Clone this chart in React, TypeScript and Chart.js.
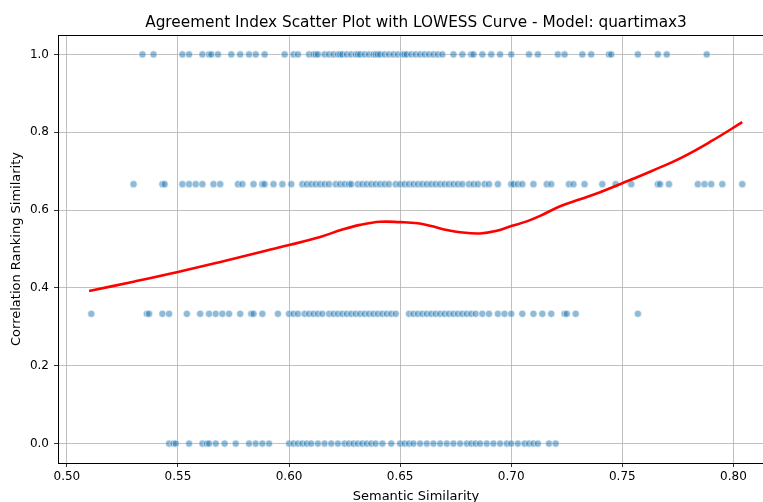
import React, { useEffect, useRef } from "react";
import { Chart, registerables } from "chart.js";

Chart.register(...registerables);

const TITLE = "Agreement Index Scatter Plot with LOWESS Curve - Model: quartimax3";
const X_LABEL = "Semantic Similarity";
const Y_LABEL = "Correlation Ranking Similarity";

// Semantic similarity values for each agreement level
const row100: number[] = [
  0.534, 0.539, 0.552, 0.555, 0.561, 0.564, 0.565, 0.568, 0.574, 0.578, 0.582, 0.585, 0.589,
  0.598, 0.602, 0.604, 0.609, 0.611, 0.612, 0.613, 0.616, 0.618, 0.620, 0.622, 0.623, 0.624,
  0.626, 0.628, 0.630, 0.631, 0.632, 0.634, 0.636, 0.638, 0.639, 0.640, 0.641, 0.643, 0.645,
  0.647, 0.649, 0.651, 0.652, 0.653, 0.655, 0.657, 0.659, 0.661, 0.663, 0.665, 0.667, 0.669,
  0.674, 0.678, 0.682, 0.683, 0.687, 0.691, 0.695, 0.700, 0.708, 0.712, 0.721, 0.724, 0.732,
  0.736, 0.744, 0.745, 0.757, 0.766, 0.770, 0.788,
];
const row067: number[] = [
  0.530, 0.543, 0.544, 0.552, 0.555, 0.558, 0.561, 0.566, 0.569, 0.577, 0.579, 0.584, 0.588,
  0.589, 0.593, 0.597, 0.601, 0.606, 0.608, 0.610, 0.612, 0.614, 0.616, 0.618, 0.621, 0.623,
  0.625, 0.627, 0.628, 0.631, 0.633, 0.635, 0.637, 0.639, 0.641, 0.643, 0.645, 0.648, 0.650,
  0.652, 0.654, 0.656, 0.658, 0.660, 0.662, 0.664, 0.666, 0.668, 0.670, 0.672, 0.674, 0.676,
  0.678, 0.681, 0.683, 0.685, 0.688, 0.690, 0.694, 0.700, 0.701, 0.703, 0.705, 0.710, 0.716,
  0.718, 0.726, 0.728, 0.733, 0.741, 0.747, 0.754, 0.766, 0.767, 0.771, 0.784, 0.787, 0.790,
  0.795, 0.804,
];
const row033: number[] = [
  0.511, 0.536, 0.537, 0.543, 0.546, 0.554, 0.560, 0.564, 0.567, 0.570, 0.573, 0.578, 0.583,
  0.584, 0.588, 0.595, 0.600, 0.602, 0.604, 0.607, 0.609, 0.611, 0.613, 0.615, 0.618, 0.620,
  0.622, 0.624, 0.626, 0.628, 0.630, 0.632, 0.634, 0.636, 0.638, 0.640, 0.642, 0.644, 0.646,
  0.648, 0.654, 0.656, 0.658, 0.660, 0.662, 0.664, 0.666, 0.668, 0.670, 0.672, 0.674, 0.676,
  0.678, 0.680, 0.682, 0.684, 0.687, 0.690, 0.694, 0.697, 0.700, 0.705, 0.710, 0.714, 0.718,
  0.724, 0.725, 0.729, 0.757,
];
const row000: number[] = [
  0.546, 0.548, 0.549, 0.555, 0.561, 0.563, 0.564, 0.567, 0.571, 0.576, 0.582, 0.585, 0.588,
  0.591, 0.600, 0.602, 0.604, 0.606, 0.608, 0.610, 0.613, 0.616, 0.619, 0.622, 0.625, 0.627,
  0.629, 0.631, 0.633, 0.635, 0.637, 0.639, 0.642, 0.646, 0.650, 0.652, 0.654, 0.656, 0.659,
  0.662, 0.665, 0.668, 0.671, 0.674, 0.677, 0.680, 0.682, 0.684, 0.686, 0.689, 0.692, 0.695,
  0.698, 0.700, 0.703, 0.706, 0.708, 0.710, 0.712, 0.717, 0.720,
];
const rowLevels: number[] = [1.0, 2 / 3, 1 / 3, 0.0];

// LOWESS curve
const lowessX: number[] = [
  0.510, 0.530, 0.550, 0.570, 0.590, 0.600, 0.614, 0.624, 0.632, 0.641, 0.650, 0.658, 0.664,
  0.671, 0.677, 0.686, 0.693, 0.700, 0.707, 0.713, 0.722, 0.731, 0.740, 0.750, 0.763, 0.776,
  0.790, 0.804,
];
const lowessY: number[] = [
  0.392, 0.416, 0.441, 0.468, 0.496, 0.510, 0.531, 0.550, 0.562, 0.570, 0.569, 0.566, 0.559,
  0.549, 0.543, 0.540, 0.546, 0.559, 0.571, 0.585, 0.610, 0.628, 0.646, 0.669, 0.700, 0.733,
  0.777, 0.826,
];

const X_TICKS: number[] = [0.5, 0.55, 0.6, 0.65, 0.7, 0.75, 0.8];
const Y_TICKS: number[] = [0.0, 0.2, 0.4, 0.6, 0.8, 1.0];

const FONT = "'DejaVu Sans', sans-serif";
const CANVAS_W = 768;

export default function App() {
  const ref = useRef<HTMLCanvasElement | null>(null);

  useEffect(() => {
    document.body.style.margin = "0";
    document.body.style.overflow = "hidden";
    const canvas = ref.current;
    if (!canvas) return;

    const scatterPts: { x: number; y: number }[] = [];
    const rows = [row100, row067, row033, row000];
    rows.forEach((r, i) => r.forEach((x) => scatterPts.push({ x, y: rowLevels[i] })));
    const curve = lowessX.map((x, i) => ({ x, y: lowessY[i] }));

    const deco = {
      id: "deco",
      afterDraw(chart: any) {
        const { ctx, chartArea } = chart;
        ctx.save();
        ctx.strokeStyle = "#000";
        ctx.lineWidth = 1;
        ctx.strokeRect(
          Math.round(chartArea.left) + 0.5,
          Math.round(chartArea.top) + 0.5,
          Math.round(chartArea.right - chartArea.left),
          Math.round(chartArea.bottom - chartArea.top)
        );
        ctx.fillStyle = "#000";
        ctx.textAlign = "center";
        ctx.textBaseline = "alphabetic";
        ctx.font = `15.3px ${FONT}`;
        ctx.fillText(TITLE, 416, 27);
        ctx.font = `13px ${FONT}`;
        ctx.fillText(X_LABEL, 416, 500);
        ctx.translate(20, (chartArea.top + chartArea.bottom) / 2);
        ctx.rotate(-Math.PI / 2);
        ctx.fillText(Y_LABEL, 0, 0);
        ctx.restore();
      },
    };

    const chart = new Chart(canvas, {
      type: "scatter",
      data: {
        datasets: [
          {
            type: "line",
            data: curve,
            borderColor: "#ff0000",
            borderWidth: 2.6,
            pointRadius: 0,
            tension: 0.4,
            fill: false,
            order: 0,
          } as any,
          {
            data: scatterPts,
            backgroundColor: "rgba(31,119,180,0.5)",
            borderColor: "rgba(255,255,255,0.9)",
            borderWidth: 0.6,
            pointRadius: 3.6,
            order: 1,
          },
        ],
      },
      options: {
        animation: false,
        responsive: false,
        events: [],
        layout: { padding: { top: 35, right: 0, left: 0, bottom: 0 } },
        plugins: { legend: { display: false }, tooltip: { enabled: false }, title: { display: false } },
        scales: {
          x: {
            type: "linear",
            min: 0.496,
            max: 0.8135,
            afterBuildTicks: (s: any) => {
              s.ticks = X_TICKS.map((v) => ({ value: v }));
            },
            afterFit: (s: any) => {
              s.height = 39;
              s.paddingLeft = 0;
              s.paddingRight = 0;
            },
            ticks: {
              callback: (v: any) => Number(v).toFixed(2),
              color: "#000",
              font: { family: FONT, size: 12 },
              padding: 3,
              maxRotation: 0,
              autoSkip: false,
            },
            grid: {
              color: "#b0b0b0",
              lineWidth: 0.8,
              tickColor: "#000",
              tickLength: 4,
              drawTicks: true,
            },
            border: { display: false },
          },
          y: {
            type: "linear",
            min: -0.05,
            max: 1.05,
            afterBuildTicks: (s: any) => {
              s.ticks = Y_TICKS.map((v) => ({ value: v }));
            },
            afterFit: (s: any) => {
              s.width = 58;
              s.paddingTop = 0;
              s.paddingBottom = 0;
            },
            ticks: {
              callback: (v: any) => Number(v).toFixed(1),
              color: "#000",
              font: { family: FONT, size: 12 },
              padding: 5,
              autoSkip: false,
            },
            grid: {
              color: "#b0b0b0",
              lineWidth: 0.8,
              tickColor: "#000",
              tickLength: 4,
              drawTicks: true,
            },
            border: { display: false },
          },
        },
      },
      plugins: [deco],
    });
    return () => chart.destroy();
  }, []);

  return (
    <div style={{ width: 763, height: 502, overflow: "hidden" }}>
      <canvas
        ref={ref}
        width={CANVAS_W}
        height={502}
        style={{ display: "block", width: CANVAS_W, height: 502 }}
      />
    </div>
  );
}
